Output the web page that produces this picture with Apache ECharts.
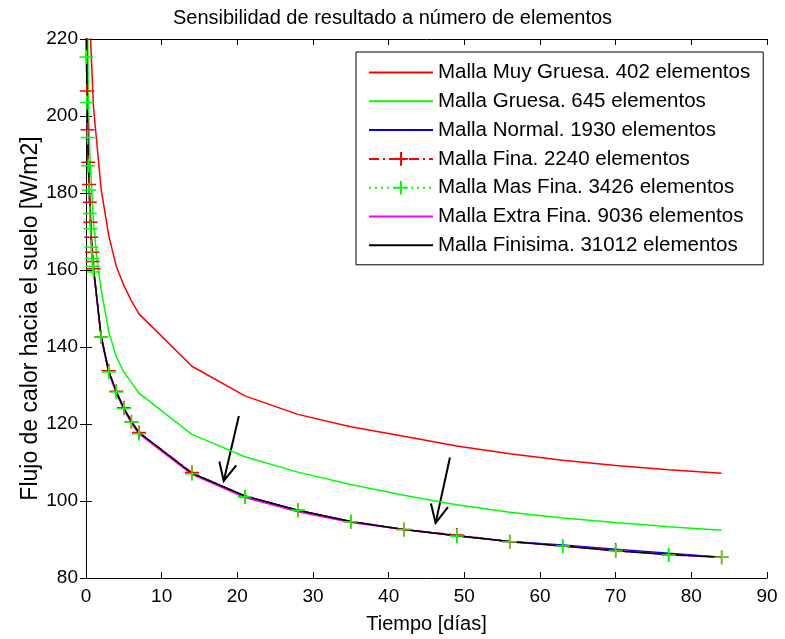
<!DOCTYPE html>
<html>
<head>
<meta charset="utf-8">
<script src="https://cdn.jsdelivr.net/npm/echarts@6/dist/echarts.min.js"></script>
<style>html,body{margin:0;padding:0;background:#fff;}#c{width:785px;height:639px;}</style>
</head>
<body>
<div id="c"></div>
<script>
// ---- data ----
const seriesNames = [
  'Malla Muy Gruesa. 402 elementos',
  'Malla Gruesa. 645 elementos',
  'Malla Normal. 1930 elementos',
  'Malla Fina. 2240 elementos',
  'Malla Mas Fina. 3426 elementos',
  'Malla Extra Fina. 9036 elementos',
  'Malla Finisima. 31012 elementos'
];
const tMuyGruesa = [0.3, 0.6, 1, 2, 3, 4, 5, 6, 7, 14, 21, 28, 35, 42, 49, 56, 63, 70, 77, 84];
const vMuyGruesa = [240, 220, 202, 181, 169, 161, 156, 152, 148.6, 135, 127.3, 122.5, 119.3, 116.8, 114.3, 112.3, 110.6, 109.2, 108.1, 107.2];
const tGruesa = [0.1, 0.3, 0.5, 1, 1.5, 2, 3, 4, 5, 6, 7, 14, 21, 28, 35, 42, 49, 56, 63, 70, 77, 84];
const vGruesa = [250, 205, 190, 172, 162, 155, 144, 137.5, 133.5, 130.8, 128, 117.3, 111.5, 107.5, 104.3, 101.5, 99, 97.1, 95.6, 94.4, 93.3, 92.4];
const tFine = [0.05, 0.1, 0.2, 0.3, 0.4, 0.5, 0.6, 0.7, 0.8, 0.9, 1, 2, 3, 4, 5, 6, 7, 14, 21, 28, 35, 42, 49, 56, 63, 70, 77, 84];
const vNormal    = [227, 210, 197, 188.5, 182, 177, 172.5, 168.5, 165, 162.5, 160.3, 142.8, 133.7, 128.4, 124.1, 120.6, 117.8, 107.2, 101.3, 97.6, 94.7, 92.6, 91.0, 89.5, 88.6, 87.5, 86.4, 85.4];
const vFina      = [225, 206.5, 196.4, 188, 182.2, 177.6, 172.4, 168.5, 164.6, 162.2, 160.3, 142.6, 133.8, 128.5, 124.2, 120.6, 117.8, 107.4, 101.1, 97.6, 94.6, 92.6, 91.2, 89.4, 88.3, 87.3, 86.0, 85.4];
const vMasFina   = [215.3, 203.5, 194.4, 187.1, 180.8, 174.7, 170.7, 165.9, 163, 161, 159.5, 142.6, 133.5, 128.3, 124, 120.5, 117.5, 107.1, 101.1, 97.6, 94.6, 92.6, 90.9, 89.4, 88.3, 87.0, 86.0, 85.4];
const vExtraFina = [226, 209, 196.5, 188, 181.5, 176.5, 172, 168, 164.6, 162.2, 160, 142.4, 133.3, 128.0, 123.7, 120.2, 117.4, 106.9, 100.9, 97.2, 94.4, 92.6, 91.0, 89.5, 88.3, 87.1, 86.1, 85.4];
const vFinisima  = [226, 210, 197, 188.5, 182, 177, 172.5, 168.5, 165, 162.5, 160.3, 142.8, 133.7, 128.4, 124.1, 120.6, 117.8, 107.2, 101.3, 97.6, 94.7, 92.6, 91.0, 89.5, 88.3, 87.1, 86.1, 85.4];
// arrows: [x start, y start, x tip, y tip] in data units
const arrows = [[20.2, 122.1, 18.2, 105.2], [48.1, 111.3, 46.2, 94.3]];
const xTicks = [0, 10, 20, 30, 40, 50, 60, 70, 80, 90];
const yTicks = [80, 100, 120, 140, 160, 180, 200, 220];
const titleText = 'Sensibilidad de resultado a número de elementos';
const xName = 'Tiempo [días]';
const yName = 'Flujo de calor hacia el suelo [W/m2]';

// ---- chart ----
const zip = (t, v) => t.map((x, i) => [x, v[i]]);
const FONT = '"Liberation Sans", Arial, sans-serif';
const plus = 'path://M5,0L5,10M0,5L10,5';
const chart = echarts.init(document.getElementById('c'), null, {renderer: 'canvas'});

function lineSeries(name, data, color, type, marker) {
  const s = {
    name, type: 'line', data, xAxisIndex: 0, yAxisIndex: 0,
    lineStyle: {color, width: 1.5, type: type || 'solid'},
    emphasis: {disabled: true},
    clip: true, animation: false
  };
  if (marker) {
    s.symbol = plus; s.symbolSize = 14; s.showSymbol = true;
    s.itemStyle = {color: 'rgba(0,0,0,0)', borderColor: color, borderWidth: 1.5};
  } else {
    s.symbol = 'none'; s.showSymbol = false;
    s.itemStyle = {color: 'rgba(0,0,0,0)', borderWidth: 0, opacity: 0};
  }
  return s;
}

const axisCommon = {
  axisLine: {lineStyle: {color: '#000', width: 1}},
  axisTick: {inside: true, length: 6, lineStyle: {color: '#000'}},
  splitLine: {show: false}
};

const option = {
  animation: false,
  backgroundColor: '#fff',
  grid: {left: 86, right: 18, top: 39, bottom: 60, containLabel: false},
  graphic: [{
    type: 'text', left: 'center', top: 8,
    style: {text: titleText, font: '20px ' + FONT, fill: '#000'},
    x: 34
  }],
  legend: {
    orient: 'vertical', left: 356, top: 52,
    padding: [10, 13, 9, 12], itemWidth: 64, itemHeight: 17, itemGap: 7.8,
    backgroundColor: '#fff', borderColor: '#000', borderWidth: 1,
    textStyle: {fontFamily: FONT, fontSize: 20.5, color: '#000'},
    data: seriesNames
  },
  xAxis: [
    Object.assign({type: 'value', min: xTicks[0], max: xTicks[xTicks.length - 1], interval: 10, position: 'bottom',
      name: xName, nameLocation: 'middle', nameGap: 36, nameMoveOverlap: false,
      nameTextStyle: {fontFamily: FONT, fontSize: 20, color: '#000'},
      axisLabel: {fontFamily: FONT, fontSize: 19, color: '#000', margin: 9}}, axisCommon),
    Object.assign({type: 'value', min: xTicks[0], max: xTicks[xTicks.length - 1], interval: 10, position: 'top',
      axisLabel: {show: false}}, axisCommon)
  ],
  yAxis: [
    Object.assign({type: 'value', min: yTicks[0], max: yTicks[yTicks.length - 1], interval: 20, position: 'left',
      name: yName, nameLocation: 'middle', nameGap: 44, nameRotate: 90, nameMoveOverlap: false,
      nameTextStyle: {fontFamily: FONT, fontSize: 23, color: '#000', padding: [0, 20, 0, 0]},
      axisLabel: {fontFamily: FONT, fontSize: 19, color: '#000', margin: 8}}, axisCommon),
    Object.assign({type: 'value', min: yTicks[0], max: yTicks[yTicks.length - 1], interval: 20, position: 'right',
      axisLabel: {show: false}}, axisCommon)
  ],
  series: [
    lineSeries(seriesNames[0], zip(tMuyGruesa, vMuyGruesa), '#ff0000'),
    lineSeries(seriesNames[1], zip(tGruesa, vGruesa), '#00ff00'),
    lineSeries(seriesNames[2], zip(tFine, vNormal), '#0000ff'),
    lineSeries(seriesNames[3], zip(tFine, vFina), '#ff0000', [10, 4, 2, 4], true),
    lineSeries(seriesNames[4], zip(tFine, vMasFina), '#00ff00', [2, 4], true),
    lineSeries(seriesNames[5], zip(tFine, vExtraFina), '#ff00ff'),
    lineSeries(seriesNames[6], zip(tFine, vFinisima), '#000000'),
    {
      type: 'custom', name: 'arrows', data: arrows, xAxisIndex: 0, yAxisIndex: 0,
      encode: {x: [0, 2], y: [1, 3]}, clip: false, silent: true, animation: false,
      renderItem: function (params, api) {
        const p1 = api.coord([api.value(0), api.value(1)]);
        const p2 = api.coord([api.value(2), api.value(3)]);
        const ang = Math.atan2(p1[1] - p2[1], p1[0] - p2[0]);
        const L = 20, a = 0.45;
        const h1 = [p2[0] + L * Math.cos(ang + a), p2[1] + L * Math.sin(ang + a)];
        const h2 = [p2[0] + L * Math.cos(ang - a), p2[1] + L * Math.sin(ang - a)];
        const st = {stroke: '#000', lineWidth: 2, fill: null};
        return {type: 'group', children: [
          {type: 'polyline', shape: {points: [p1, p2]}, style: st},
          {type: 'polyline', shape: {points: [h1, p2, h2]}, style: st}
        ]};
      }
    }
  ]
};
chart.setOption(option);
</script>
</body>
</html>
